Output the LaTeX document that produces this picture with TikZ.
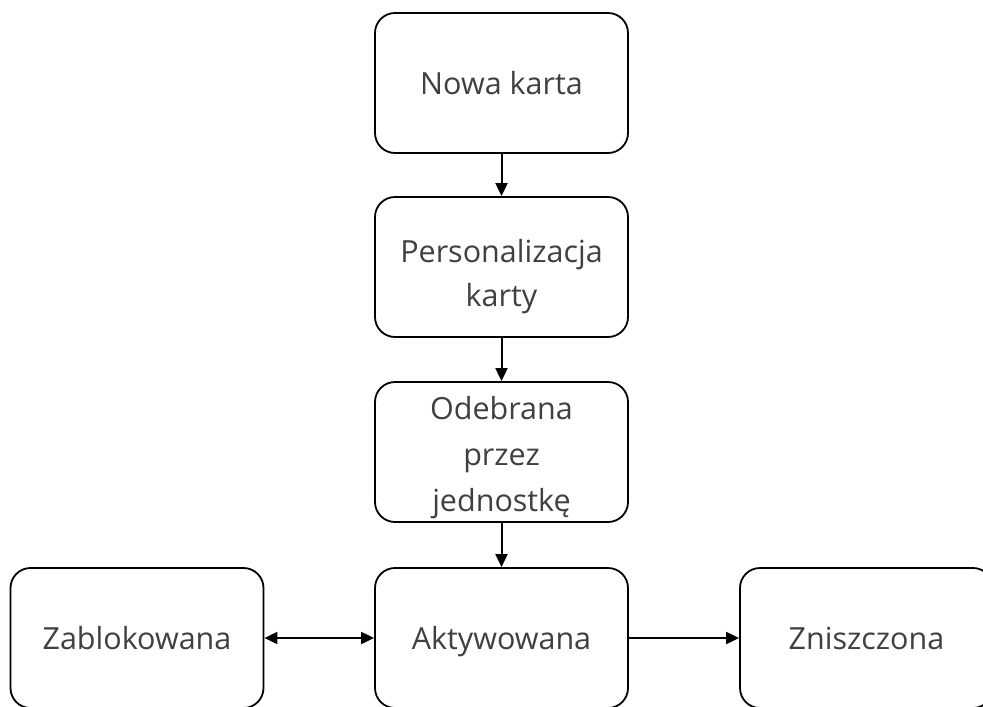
\documentclass[tikz,border=0pt]{standalone}
\usepackage{fontspec}
\setmainfont{Open Sans}
\usetikzlibrary{arrows.meta}
\definecolor{txt}{HTML}{404040}
\tikzset{
  box/.style={draw=black, line width=1.8pt, rounded corners=20pt, minimum width=253pt, minimum height=140pt, inner sep=0pt, align=center, text=txt, font=\fontsize{30.5}{44}\selectfont, text depth=0pt, text height=22pt},
  twobox/.style={box, text height=78pt},
  threebox/.style={box, font=\fontsize{30.5}{46}\selectfont, text height=118pt},
  conn/.style={line width=2pt, -{Triangle[length=13pt,width=12pt]}},
  bconn/.style={line width=2pt, {Triangle[length=13pt,width=12pt]}-{Triangle[length=13pt,width=12pt]}}
}
\begin{document}
\begin{tikzpicture}[x=1pt,y=1pt]
\useasboundingbox (0,0) rectangle (983,-707);
\clip (0,0) rectangle (983,-707);
\fill[white] (0,0) rectangle (983,-707);
\node[box] (nowa) at (501.5,-83) {Nowa karta};
\node[twobox] (pers) at (501.5,-267) {Personalizacja\\karty};
\node[threebox] (odeb) at (501.5,-452) {Odebrana\\przez\\jednostkę};
\node[box] (akt) at (501.5,-638) {Aktywowana};
\node[box] (zabl) at (137,-638) {Zablokowana};
\node[box] (znis) at (866.5,-638) {Zniszczona};
\draw[conn] (nowa) -- (pers);
\draw[conn] (pers) -- (odeb);
\draw[conn] (odeb) -- (akt);
\draw[bconn] (zabl) -- (akt);
\draw[conn] (akt) -- (znis);
\end{tikzpicture}
\end{document}
